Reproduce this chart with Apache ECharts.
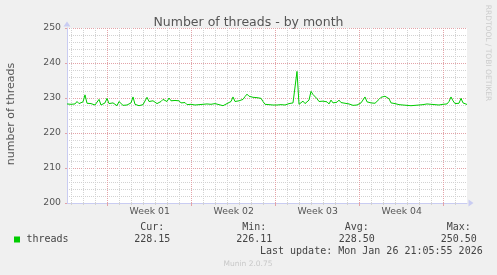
<!DOCTYPE html>
<html>
<head>
<meta charset="utf-8">
<script src="https://cdn.jsdelivr.net/npm/echarts@6/dist/echarts.min.js"></script>
<style>
html,body{margin:0;padding:0;background:#F0F0F0;}
#chart{width:497px;height:275px;}
</style>
</head>
<body>
<div id="chart"></div>
<script>
// ---- data ----
const titleText = 'Number of threads - by month';
const yAxisName = 'number of threads';
const seriesName = 'threads';
const stepHours = 4;          // one sample every 4 hours
const spanHours = 800;        // visible range
const threads = [
  228.3,228.5,228.2,228.6,228.3,229.0,228.4,228.7,228.9,230.9,
  228.5,228.9,228.4,228.2,228.0,227.9,229.6,228.0,228.3,228.6,
  229.9,228.4,228.1,228.6,228.2,227.8,229.0,228.5,227.9,228.3,
  228.0,228.2,228.6,230.3,228.2,228.4,227.8,228.3,228.1,228.6,
  230.2,229.0,228.7,229.2,229.0,228.4,228.9,229.0,229.6,229.7,
  229.0,230.0,229.2,228.8,229.3,229.5,229.2,228.6,228.4,228.7,
  228.1,228.5,228.2,228.6,228.0,228.3,228.1,228.5,228.2,228.0,
  228.3,227.9,228.2,228.0,228.4,227.9,228.1,228.3,227.8,228.2,
  228.4,228.6,229.0,230.3,229.0,228.8,229.2,229.0,229.6,230.4,
  231.1,230.5,230.0,230.2,229.8,230.1,229.7,229.9,229.0,228.2,
  228.0,228.1,227.9,228.0,228.1,228.0,228.2,228.1,228.3,228.0,
  228.2,228.4,228.1,228.6,229.0,237.6,228.2,228.6,229.1,228.4,
  228.5,229.4,231.9,231.0,230.5,229.8,229.0,228.8,229.1,228.7,
  228.9,228.3,229.4,228.6,228.2,228.8,229.4,228.7,228.3,228.5,
  228.0,228.3,228.1,227.9,228.2,228.0,228.4,228.6,229.0,230.3,
  228.9,228.4,228.6,228.3,228.5,229.0,229.6,230.2,230.0,230.5,
  230.3,229.8,228.6,228.2,228.4,228.0,228.1,227.9,228.0,228.2,
  227.9,228.0,227.8,228.1,227.9,228.2,228.0,227.8,228.1,227.9,
  228.3,228.0,228.2,227.9,228.1,228.3,228.0,228.4,228.2,228.6,
  228.3,229.0,230.3,229.2,228.4,228.8,228.5,229.9,228.6,228.2,
  228.15
];
const weekLineHours = [81.4, 249.4, 417.4, 585.4, 753.4];
const weekLabels = ['Week 01', 'Week 02', 'Week 03', 'Week 04'];
const yMin = 200, yMax = 250, yStep = 10;
const statNames = ['Cur:', 'Min:', 'Avg:', 'Max:'];
const statValues = ['228.15', '226.11', '228.50', '250.50'];
const lastUpdate = 'Last update: Mon Jan 26 21:05:55 2026';
const footer = 'Munin 2.0.75';
const sideText = 'RRDTOOL / TOBI OETIKER';

// ---- derived ----
const dayLineHours = [];
for (let h = weekLineHours[0] % 24; h <= spanHours; h += 24) {
  if (!weekLineHours.some(w => Math.abs(w - h) < 0.5)) dayLineHours.push(+h.toFixed(2));
}
const weekMids = weekLabels.map((_, i) => weekLineHours[i] + 84);
const lineData = threads.map((v, i) => [i * stepHours, v]);

const GREEN = '#00CC00';
const AXIS = '#C9CCF2';
const MAJOR = '#E3A3A8';
const MINOR = '#D2D2D2';
const SANS = '"DejaVu Sans"';
const MONO = '"DejaVu Sans Mono"';

const statX = [152.3, 254.3, 356.8, 458.8];
const graphics = [
  {type:'text', x: 11, y: 114, rotation: Math.PI/2,
   style:{text: yAxisName, font: '11px ' + SANS, fill:'#555', textAlign:'center', textVerticalAlign:'middle'}},
  {type:'text', x: 488, y: 53, rotation: -Math.PI/2,
   style:{text: sideText, font: '7.5px ' + SANS, fill:'#CCCCCC', textAlign:'center', textVerticalAlign:'middle'}},
  {type:'rect', shape:{x: 14, y: 236.5, width: 6, height: 6}, style:{fill: GREEN}},
  {type:'text', x: 26.5, y: 239.5,
   style:{text: seriesName, font: '10px ' + MONO, fill:'#444', textAlign:'left', textVerticalAlign:'middle'}},
  {type:'text', x: 482.7, y: 251.8,
   style:{text: lastUpdate, font: '10px ' + MONO, fill:'#444', textAlign:'right', textVerticalAlign:'middle'}},
  {type:'text', x: 248, y: 264,
   style:{text: footer, font: '7.5px ' + SANS, fill:'#C8C8C8', textAlign:'center', textVerticalAlign:'middle'}}
];
statNames.forEach((n, i) => {
  graphics.push({type:'text', x: statX[i], y: 227.7,
    style:{text: n, font: '10px ' + MONO, fill:'#444', textAlign:'center', textVerticalAlign:'middle'}});
  graphics.push({type:'text', x: statX[i], y: 239.3,
    style:{text: statValues[i], font: '10px ' + MONO, fill:'#444', textAlign:'center', textVerticalAlign:'middle'}});
});

const chart = echarts.init(document.getElementById('chart'), null, {renderer: 'canvas'});
chart.setOption({
  animation: false,
  backgroundColor: '#F0F0F0',
  title: {
    text: titleText, left: 'center', top: 11,
    textStyle: {fontFamily: 'DejaVu Sans', fontSize: 12.5, fontWeight: 'normal', color: '#555'}
  },
  grid: {left: 67, top: 28, width: 400, height: 175, show: true, backgroundColor: '#FFFFFF', borderWidth: 0},
  xAxis: [
    {
      type: 'value', min: 0, max: spanHours, position: 'bottom',
      axisLine: {show: false},
      axisTick: {show: true, customValues: dayLineHours, length: 2, lineStyle: {color: MINOR}},
      axisLabel: {show: false},
      splitLine: {show: true, lineStyle: {color: MINOR, width: 1, type: [1, 1]}}
    },
    {
      type: 'value', min: 0, max: spanHours, position: 'bottom',
      axisLine: {show: true, lineStyle: {color: AXIS, width: 1},
                 symbol: ['none', 'triangle'], symbolSize: [7, 5], symbolOffset: [0, 4]},
      axisTick: {show: true, customValues: weekLineHours, length: 3, lineStyle: {color: MAJOR}},
      axisLabel: {
        show: true, customValues: weekMids, margin: 4,
        fontFamily: 'DejaVu Sans', fontSize: 9.3, color: '#555',
        formatter: v => { const k = weekMids.findIndex(m => Math.abs(m - v) < 1); return k >= 0 ? weekLabels[k] : ''; }
      },
      splitLine: {show: true, lineStyle: {color: MAJOR, width: 1, type: [1, 1]}}
    }
  ],
  yAxis: {
    type: 'value', min: yMin, max: yMax, interval: yStep,
    axisLine: {show: true, lineStyle: {color: AXIS, width: 1},
               symbol: ['none', 'triangle'], symbolSize: [7, 5], symbolOffset: [0, 4]},
    axisTick: {show: true, length: 2, lineStyle: {color: MAJOR}},
    axisLabel: {fontFamily: 'DejaVu Sans', fontSize: 9.3, color: '#555', margin: 6},
    splitLine: {show: true, lineStyle: {color: MAJOR, width: 1, type: [1, 1]}},
    minorTick: {show: false, splitNumber: 5},
    minorSplitLine: {show: true, lineStyle: {color: MINOR, width: 1, type: [1, 1]}}
  },
  series: [{
    name: seriesName, type: 'line', xAxisIndex: 1, data: lineData,
    showSymbol: false, symbol: 'none',
    lineStyle: {color: GREEN, width: 1}, itemStyle: {color: GREEN}
  }],
  graphic: graphics
});
</script>
</body>
</html>
